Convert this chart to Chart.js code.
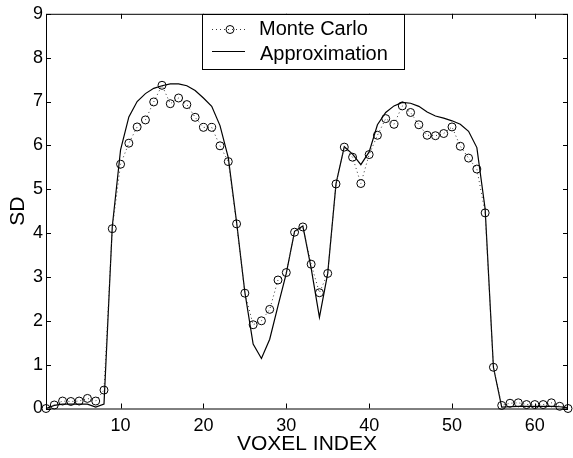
<!DOCTYPE html>
<html>
<head>
<meta charset="utf-8">
<script src="https://cdn.jsdelivr.net/npm/chart.js@4.4.1/dist/chart.umd.min.js"></script>
<style>
  body { margin: 0; background: #fff; }
  #wrap { width: 573px; height: 458px; position: relative; }
</style>
</head>
<body>
<div id="wrap"><canvas id="sd-chart"></canvas></div>
<script>
const voxelIndex = [1, 2, 3, 4, 5, 6, 7, 8, 9, 10, 11, 12, 13, 14, 15, 16,
  17, 18, 19, 20, 21, 22, 23, 24, 25, 26, 27, 28, 29, 30, 31, 32,
  33, 34, 35, 36, 37, 38, 39, 40, 41, 42, 43, 44, 45, 46, 47, 48,
  49, 50, 51, 52, 53, 54, 55, 56, 57, 58, 59, 60, 61, 62, 63, 64];

const monteCarlo = [0.00, 0.08, 0.17, 0.16, 0.17, 0.23, 0.17, 0.42,
  4.10, 5.57, 6.05, 6.42, 6.58, 6.99, 7.37, 6.95,
  7.08, 6.93, 6.64, 6.41, 6.41, 5.99, 5.63, 4.21,
  2.63, 1.91, 2.00, 2.26, 2.93, 3.10, 4.02, 4.14,
  3.29, 2.64, 3.08, 5.12, 5.96, 5.73, 5.13, 5.79,
  6.23, 6.61, 6.48, 6.90, 6.75, 6.47, 6.23, 6.22,
  6.27, 6.42, 5.98, 5.71, 5.46, 4.46, 0.94, 0.07,
  0.12, 0.13, 0.09, 0.09, 0.09, 0.13, 0.05, 0.00];

const approximation = [0.00, 0.07, 0.10, 0.10, 0.10, 0.10, 0.03, 0.10,
  4.15, 5.90, 6.65, 7.00, 7.18, 7.30, 7.36, 7.40,
  7.40, 7.36, 7.25, 7.08, 6.89, 6.45, 5.72, 4.25,
  2.65, 1.47, 1.14, 1.58, 2.34, 3.08, 4.04, 4.16,
  3.20, 2.08, 3.08, 5.12, 5.97, 5.80, 5.56, 5.85,
  6.47, 6.75, 6.90, 6.98, 6.96, 6.89, 6.76, 6.67,
  6.62, 6.56, 6.48, 6.32, 5.95, 4.55, 0.94, 0.03,
  0.04, 0.05, 0.05, 0.05, 0.05, 0.05, 0.04, 0.02];

const xTicks = [10, 20, 30, 40, 50, 60];
const yTicks = [0, 1, 2, 3, 4, 5, 6, 7, 8, 9];

const FONT = 'Liberation Sans, Arial, Helvetica, sans-serif';

// matlab style box with inward ticks
const framePlugin = {
  id: 'frame',
  afterDraw(chart) {
    const ctx = chart.ctx;
    const a = chart.chartArea;
    const sx = chart.scales.x, sy = chart.scales.y;
    ctx.save();
    ctx.strokeStyle = '#000';
    ctx.lineWidth = 1;
    ctx.strokeRect(a.left + 0.5, a.top + 0.5, a.right - a.left - 1, a.bottom - a.top);
    ctx.beginPath();
    xTicks.forEach(v => {
      const x = Math.round(sx.getPixelForValue(v)) + 0.5;
      ctx.moveTo(x, a.bottom); ctx.lineTo(x, a.bottom - 5);
      ctx.moveTo(x, a.top); ctx.lineTo(x, a.top + 5);
    });
    yTicks.forEach(v => {
      const y = Math.round(sy.getPixelForValue(v)) + 0.5;
      ctx.moveTo(a.left, y); ctx.lineTo(a.left + 5, y);
      ctx.moveTo(a.right, y); ctx.lineTo(a.right - 5, y);
    });
    ctx.stroke();
    ctx.restore();
  }
};

const legendPlugin = {
  id: 'boxLegend',
  afterDraw(chart) {
    const ctx = chart.ctx;
    ctx.save();
    ctx.fillStyle = '#fff';
    ctx.fillRect(202, 14, 202, 56);
    ctx.strokeStyle = '#000';
    ctx.lineWidth = 1;
    ctx.strokeRect(202.5, 14.5, 202, 55);
    // monte carlo sample
    ctx.setLineDash([1, 3]);
    ctx.strokeStyle = '#333';
    ctx.beginPath(); ctx.moveTo(212, 29.5); ctx.lineTo(248, 29.5); ctx.stroke();
    ctx.setLineDash([]);
    ctx.strokeStyle = '#000';
    ctx.beginPath(); ctx.arc(230, 29.5, 4, 0, Math.PI * 2); ctx.stroke();
    // approximation sample
    ctx.beginPath(); ctx.moveTo(212, 51.5); ctx.lineTo(245, 51.5); ctx.stroke();
    ctx.fillStyle = '#000';
    ctx.font = '20px ' + FONT;
    ctx.textBaseline = 'middle';
    ctx.fillText('Monte Carlo', 259, 29);
    ctx.fillText('Approximation', 260, 54);
    ctx.restore();
  }
};

new Chart(document.getElementById('sd-chart'), {
  type: 'line',
  data: {
    datasets: [{
      label: 'Monte Carlo',
      data: voxelIndex.map((v, i) => ({ x: v, y: monteCarlo[i] })),
      borderColor: '#333',
      borderWidth: 1,
      borderDash: [1, 3],
      pointStyle: 'circle',
      pointRadius: 4,
      pointBorderColor: '#000',
      pointBorderWidth: 1,
      pointBackgroundColor: 'rgba(0,0,0,0)',
      tension: 0,
      clip: false
    }, {
      label: 'Approximation',
      data: voxelIndex.map((v, i) => ({ x: v, y: approximation[i] })),
      borderColor: '#000',
      borderWidth: 1.2,
      pointRadius: 0,
      tension: 0,
      clip: false
    }]
  },
  options: {
    responsive: true,
    maintainAspectRatio: false,
    animation: false,
    layout: { padding: { top: 12, right: 1, left: 0, bottom: 0 } },
    plugins: {
      legend: { display: false },
      tooltip: { enabled: false }
    },
    scales: {
      x: {
        type: 'linear',
        min: 1,
        max: 64,
        afterBuildTicks: s => { s.ticks = xTicks.map(v => ({ value: v })); },
        afterFit: s => { s.height = 49.5; },
        grid: { display: false, drawTicks: false },
        border: { display: false },
        ticks: { color: '#000', padding: 7, maxRotation: 0, font: { family: FONT, size: 18 } },
        title: {
          display: true,
          text: 'VOXEL INDEX',
          color: '#000',
          padding: { top: 0, bottom: 1 },
          font: { family: FONT, size: 21 }
        }
      },
      y: {
        min: 0,
        max: 9,
        afterBuildTicks: s => { s.ticks = yTicks.map(v => ({ value: v })); },
        afterFit: s => { s.width = 46; },
        grid: { display: false, drawTicks: false },
        border: { display: false },
        ticks: { color: '#000', padding: 3, font: { family: FONT, size: 18 } },
        title: {
          display: true,
          text: 'SD',
          color: '#000',
          padding: { top: 6, bottom: 0 },
          font: { family: FONT, size: 21 }
        }
      }
    }
  },
  plugins: [framePlugin, legendPlugin]
});
</script>
</body>
</html>
